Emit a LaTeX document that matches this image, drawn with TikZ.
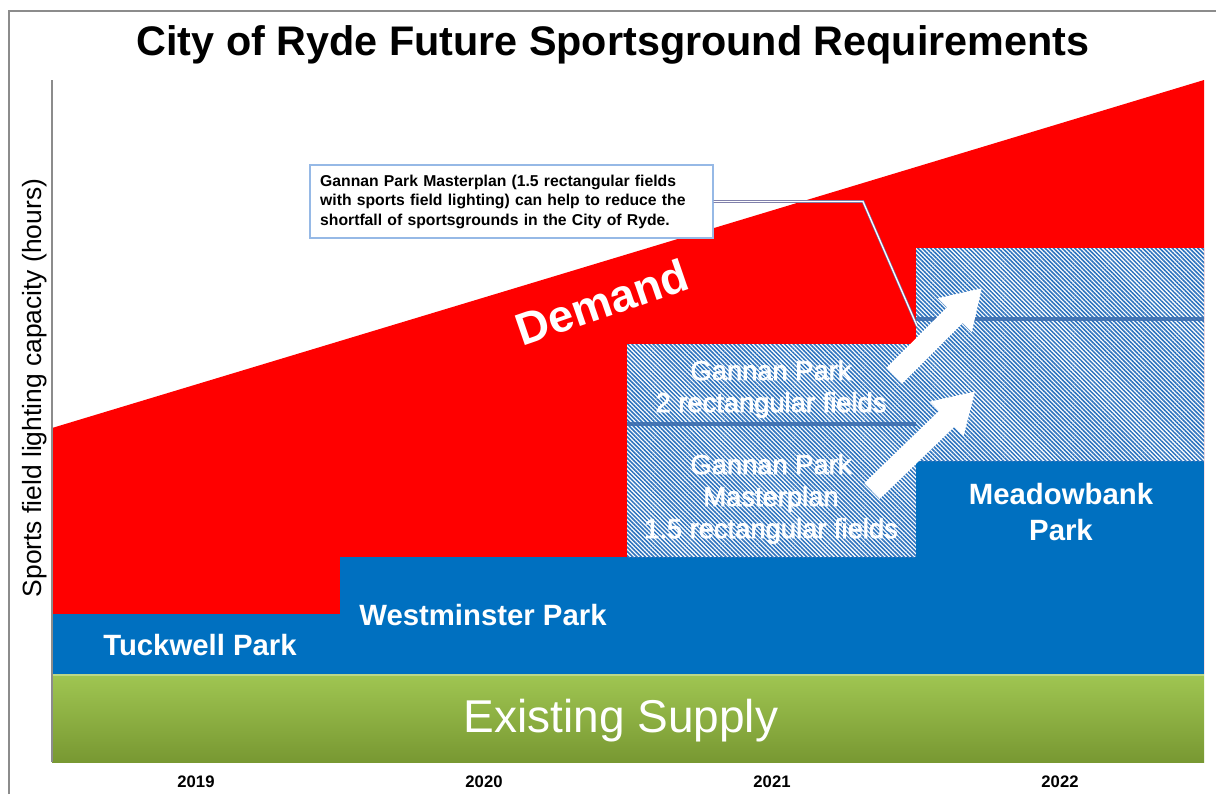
\documentclass[tikz,border=0pt]{standalone}
\usepackage{fontspec}
\setmainfont{Liberation Sans}
\usetikzlibrary{patterns.meta}
\definecolor{dred}{RGB}{255,0,0}
\definecolor{dblue}{RGB}{0,112,192}
\definecolor{hblue}{RGB}{45,115,190}
\definecolor{gtop}{RGB}{160,198,82}
\definecolor{gbot}{RGB}{120,152,50}
\definecolor{framegray}{RGB}{140,140,140}
\definecolor{cbord}{RGB}{150,185,230}
\definecolor{linkgray}{RGB}{110,110,160}
\definecolor{divblue}{RGB}{60,110,175}
\newcommand\outl[1]{\special{pdf:code 2 Tr 0.5 w 1 1 1 RG}#1\special{pdf:code 0 Tr}}
\tikzset{
  hatch/.style={fill=white, postaction={pattern={Lines[angle=-45,distance=2.25pt,line width=1.15pt]}, pattern color=hblue}},
  divider/.style={draw=divblue, line width=2.8pt, opacity=0.9},
  wtext/.style={text=white, align=center, inner sep=0pt},
  bigbold/.style={wtext, font=\bfseries\fontsize{22pt}{27.5pt}\selectfont},
  hatchtext/.style={wtext, font=\fontsize{20.5pt}{24pt}\selectfont},
  yearlab/.style={font=\bfseries\fontsize{12.5pt}{14pt}\selectfont, text=black},
  callbox/.style={draw=cbord, line width=1.3pt, fill=white, align=left, inner xsep=6pt, inner ysep=4pt,
     minimum width=302pt, minimum height=55pt, text width=287pt,
     font=\bfseries\fontsize{11.8pt}{14.6pt}\selectfont},
  connector/.style={draw=linkgray, line width=0.5pt, double=white, double distance=1pt},
  blockarrow/.style={fill=white, draw=none},
}
\begin{document}
\begin{tikzpicture}[x=0.75pt,y=-0.75pt]
\useasboundingbox (0,0) rectangle (1216,794);
\fill[white] (0,0) rectangle (1216,794);
% frame
\draw[framegray, line width=0.9pt] (9,794) -- (9,11) -- (1216,11);
% demand (red)
\fill[dred] (52,428) -- (1204,80) -- (1204,674) -- (52,674) -- cycle;
% existing supply (green)
\shade[top color=gtop, bottom color=gbot] (52,674) rectangle (1204,762);
\draw[gtop!70!white, line width=0.8pt] (52,675) -- (1204,675);
% blue supply blocks
\fill[dblue] (52,614) rectangle (340,674);
\fill[dblue] (340,557) rectangle (1204,674);
\fill[dblue] (916,461) rectangle (1204,557);
% hatched future blocks
\path[hatch] (627,344) rectangle (916,557);
\path[hatch] (916,248) rectangle (1204,461);
\draw[divider] (627,424) -- (916,424);
\draw[divider] (916,319) -- (1204,319);
% axis line
\draw[framegray, line width=0.8pt] (52,80) -- (52,762);
% title and axis label
\node[font=\bfseries\fontsize{31pt}{36pt}\selectfont, inner sep=0pt] (title) at (613,45) {City of Ryde Future Sportsground Requirements};
\node[rotate=90, font=\fontsize{19.8pt}{22pt}\selectfont, inner sep=0pt] (ylab) at (35,388) {Sports field lighting capacity (hours)};
% years
\node[yearlab] (y2019) at (196,782) {2019};
\node[yearlab] (y2020) at (484,782) {2020};
\node[yearlab] (y2021) at (772,782) {2021};
\node[yearlab] (y2022) at (1060,782) {2022};
% labels
\node[wtext, font=\fontsize{34.5pt}{38pt}\selectfont] (supply) at (621,721) {Existing Supply};
\node[wtext, rotate=19, font=\bfseries\fontsize{34pt}{40pt}\selectfont] (demand) at (602,302) {Demand};
\node[bigbold] (tuck) at (200,645) {Tuckwell Park};
\node[bigbold] (west) at (483,615) {Westminster Park};
\node[bigbold] (meadow) at (1061,512) {Meadowbank\\Park};
\node[hatchtext] (g2) at (771,389) {\outl{Gannan Park}\\\outl{2 rectangular fields}};
\node[hatchtext] (g15) at (771,499) {\outl{Gannan Park}\\\outl{Masterplan}\\\outl{1.5 rectangular fields}};
% white block arrows
\begin{scope}[shift={(894,376)}, rotate=45]
  \fill[blockarrow] (0,-11) -- (86,-11) -- (86,-24) -- (124,0) -- (86,24) -- (86,11) -- (0,11) -- cycle;
\end{scope}
\begin{scope}[shift={(872,491)}, rotate=44]
  \fill[blockarrow] (0,-11) -- (104,-11) -- (104,-24) -- (143,0) -- (104,24) -- (104,11) -- (0,11) -- cycle;
\end{scope}
% callout
\node[callbox] (callout) at (511.5,201.5) {\makebox[287pt][s]{Gannan Park Masterplan (1.5 rectangular fields}\\\makebox[287pt][s]{with sports field lighting) can help to reduce the}\\shortfall of sportsgrounds in the City of Ryde.};
\coordinate (cbend) at (863,201.5);
\coordinate (cend) at (917,326);
\draw[connector] (callout.east) -- (cbend) -- (cend);
\end{tikzpicture}
\end{document}
